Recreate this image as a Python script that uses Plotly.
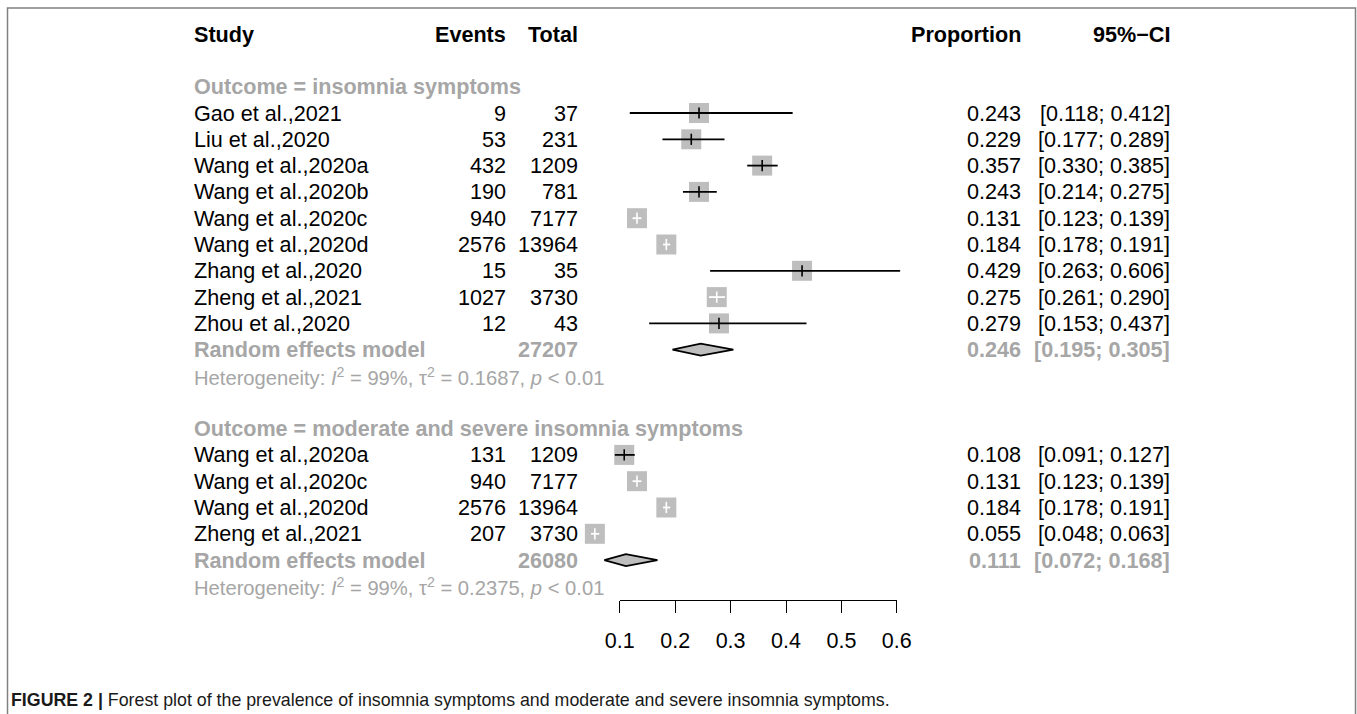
import plotly.graph_objects as go

# ---------------- data ----------------
group_titles = ["Outcome = insomnia symptoms",
                "Outcome = moderate and severe insomnia symptoms"]

studies1 = ["Gao et al.,2021", "Liu et al.,2020", "Wang et al.,2020a", "Wang et al.,2020b",
            "Wang et al.,2020c", "Wang et al.,2020d", "Zhang et al.,2020", "Zheng et al.,2021",
            "Zhou et al.,2020"]
events1 = [9, 53, 432, 190, 940, 2576, 15, 1027, 12]
total1 = [37, 231, 1209, 781, 7177, 13964, 35, 3730, 43]
prop1 = [0.243, 0.229, 0.357, 0.243, 0.131, 0.184, 0.429, 0.275, 0.279]
lower1 = [0.118, 0.177, 0.330, 0.214, 0.123, 0.178, 0.263, 0.261, 0.153]
upper1 = [0.412, 0.289, 0.385, 0.275, 0.139, 0.191, 0.606, 0.290, 0.437]
random1 = {"total": 27207, "prop": 0.246, "lower": 0.195, "upper": 0.305}
het1 = {"I2": "99%", "tau2": "0.1687", "p": "0.01"}

studies2 = ["Wang et al.,2020a", "Wang et al.,2020c", "Wang et al.,2020d", "Zheng et al.,2021"]
events2 = [131, 940, 2576, 207]
total2 = [1209, 7177, 13964, 3730]
prop2 = [0.108, 0.131, 0.184, 0.055]
lower2 = [0.091, 0.123, 0.178, 0.048]
upper2 = [0.127, 0.139, 0.191, 0.063]
random2 = {"total": 26080, "prop": 0.111, "lower": 0.072, "upper": 0.168}
het2 = {"I2": "99%", "tau2": "0.2375", "p": "0.01"}

axis_ticks = [0.1, 0.2, 0.3, 0.4, 0.5, 0.6]
headers = ["Study", "Events", "Total", "Proportion", "95%\u2212CI"]
caption_bold = "FIGURE 2 |"
caption_text = " Forest plot of the prevalence of insomnia symptoms and moderate and severe insomnia symptoms."

# ---------------- layout helpers ----------------
W, H = 1357, 714
PX0, PXS = 564.4, 554.0          # pixel = PX0 + PXS * proportion
ROW0, ROWH = 113.0, 26.3          # pixel of row 0, row pitch
FONT = "Liberation Sans, Arial, Helvetica, sans-serif"
FS = 21.6
FS_HET = 20.2
GRAY_TXT = "#A6A6A6"
BOX = "#BEBEBE"

def px(xp):
    return xp / W

col_study, col_events, col_total, col_prop, col_ci = px(193), px(507.5), px(578.5), px(1022), px(1171)

groups = [
    (group_titles[0], studies1, events1, total1, prop1, lower1, upper1, random1, het1),
    (group_titles[1], studies2, events2, total2, prop2, lower2, upper2, random2, het2),
]

fig = go.Figure()
ann = []

def add_text(x, y, text, anchor="left", bold=False, color="black", size=FS):
    ann.append(dict(x=x, y=y, xref="paper", yref="y", text=f"<b>{text}</b>" if bold else text,
                    showarrow=False, xanchor=anchor, yanchor="middle", borderpad=0,
                    font=dict(family=FONT, size=size, color=color)))

# headers
for h, c, a in zip(headers, [col_study, col_events, col_total, col_prop, col_ci],
                   ["left", "right", "right", "right", "right"]):
    add_text(c, -3, h, anchor=a, bold=True)

half_box = 10.0 / PXS  # half box width in data units
sq_x, sq_y = [], []
blk_x, blk_y, wht_x, wht_y = [], [], [], []
tb_x, tb_y, tw_x, tw_y = [], [], [], []
dia_x, dia_y = [], []

row = -1
for gi, (title, st, ev, tot, pr, lo, hi, rnd, het) in enumerate(groups):
    add_text(col_study, row, title, bold=True, color=GRAY_TXT)
    row += 1
    for s, e, t, p, l, u in zip(st, ev, tot, pr, lo, hi):
        add_text(col_study, row, s)
        add_text(col_events, row, str(e), anchor="right")
        add_text(col_total, row, str(t), anchor="right")
        add_text(col_prop, row, f"{p:.3f}", anchor="right")
        add_text(col_ci, row, f"[{l:.3f}; {u:.3f}]", anchor="right")
        sq_x.append(p); sq_y.append(row)
        if l < p - half_box or u > p + half_box:
            blk_x += [l, u, None]; blk_y += [row, row, None]
            tb_x.append(p); tb_y.append(row)
        else:
            wht_x += [l, u, None]; wht_y += [row, row, None]
            tw_x.append(p); tw_y.append(row)
        row += 1
    # random effects
    add_text(col_study, row, "Random effects model", bold=True, color=GRAY_TXT)
    add_text(col_total, row, str(rnd["total"]), anchor="right", bold=True, color=GRAY_TXT)
    add_text(col_prop, row, f"{rnd['prop']:.3f}", anchor="right", bold=True, color=GRAY_TXT)
    add_text(col_ci, row, f"[{rnd['lower']:.3f}; {rnd['upper']:.3f}]", anchor="right", bold=True, color=GRAY_TXT)
    dh = 6.0 / ROWH
    dia_x += [rnd["lower"], rnd["prop"], rnd["upper"], rnd["prop"], rnd["lower"], None]
    dia_y += [row, row - dh, row, row + dh, row, None]
    row += 1
    add_text(col_study, row,
             f"Heterogeneity: <i>I</i><sup>2</sup> = {het['I2']}, \u03c4<sup>2</sup> = {het['tau2']}, <i>p</i> &lt; {het['p']}",
             color=GRAY_TXT, size=FS_HET)
    row += 2

# traces
fig.add_trace(go.Scatter(x=sq_x, y=sq_y, mode="markers",
                         marker=dict(symbol="square", size=20, color=BOX, line=dict(width=0)),
                         hoverinfo="skip", showlegend=False))
fig.add_trace(go.Scatter(x=blk_x, y=blk_y, mode="lines", line=dict(color="black", width=1.8),
                         hoverinfo="skip", showlegend=False))
fig.add_trace(go.Scatter(x=wht_x, y=wht_y, mode="lines", line=dict(color="white", width=1.8),
                         hoverinfo="skip", showlegend=False))
fig.add_trace(go.Scatter(x=tb_x, y=tb_y, mode="markers",
                         marker=dict(symbol="line-ns", size=8, line=dict(color="black", width=1.6)),
                         hoverinfo="skip", showlegend=False))
fig.add_trace(go.Scatter(x=tw_x, y=tw_y, mode="markers",
                         marker=dict(symbol="line-ns", size=8, line=dict(color="white", width=1.6)),
                         hoverinfo="skip", showlegend=False))
fig.add_trace(go.Scatter(x=dia_x, y=dia_y, mode="lines", fill="toself", fillcolor=BOX,
                         line=dict(color="black", width=1.8),
                         hoverinfo="skip", showlegend=False))
# dummy trace to create the bottom tick axis
fig.add_trace(go.Scatter(x=[axis_ticks[0], axis_ticks[-1]], y=[None, None], xaxis="x2", yaxis="y",
                         mode="markers", hoverinfo="skip", showlegend=False))

# caption
ann.append(dict(x=px(10), y=(H - 700) / H, xref="paper", yref="paper",
                text=f"<b>{caption_bold}</b>{caption_text}", showarrow=False,
                xanchor="left", yanchor="middle", borderpad=0,
                font=dict(family="Liberation Sans, Arial, sans-serif", size=17.8, color="#1a1a1a")))

x_lo = (0 - PX0) / PXS
x_hi = (W - PX0) / PXS
y_bot = (H - ROW0) / ROWH
y_top = (0 - ROW0) / ROWH

fig.update_layout(
    width=W, height=H, autosize=False,
    margin=dict(l=0, r=0, t=0, b=0, pad=0, autoexpand=False),
    paper_bgcolor="white", plot_bgcolor="rgba(0,0,0,0)",
    showlegend=False,
    annotations=ann,
    xaxis=dict(range=[x_lo, x_hi], visible=False, domain=[0, 1], automargin=False),
    yaxis=dict(range=[y_bot, y_top], visible=False, domain=[0, 1], automargin=False),
    xaxis2=dict(range=[axis_ticks[0], axis_ticks[-1]],
                domain=[px(PX0 + PXS * axis_ticks[0]), px(PX0 + PXS * axis_ticks[-1])],
                anchor="free", position=(H - 600) / H, side="bottom", automargin=False,
                showline=True, linecolor="black", linewidth=1.4,
                ticks="outside", ticklen=12, tickwidth=1.4, tickcolor="black",
                tickvals=axis_ticks, ticktext=[f"{t:.1f}" for t in axis_ticks],
                ticklabelstandoff=9,
                tickfont=dict(family=FONT, size=21.5, color="black"),
                showgrid=False, zeroline=False),
    shapes=[dict(type="rect", xref="paper", yref="paper", x0=px(7.5), x1=px(1355.5),
                 y0=-0.05, y1=(H - 8) / H, line=dict(color="#808080", width=1.5))],
)

fig.write_html("out.html", config={"displayModeBar": False, "responsive": False},
               post_script="document.body.style.margin='0';document.body.style.overflow='hidden';")
